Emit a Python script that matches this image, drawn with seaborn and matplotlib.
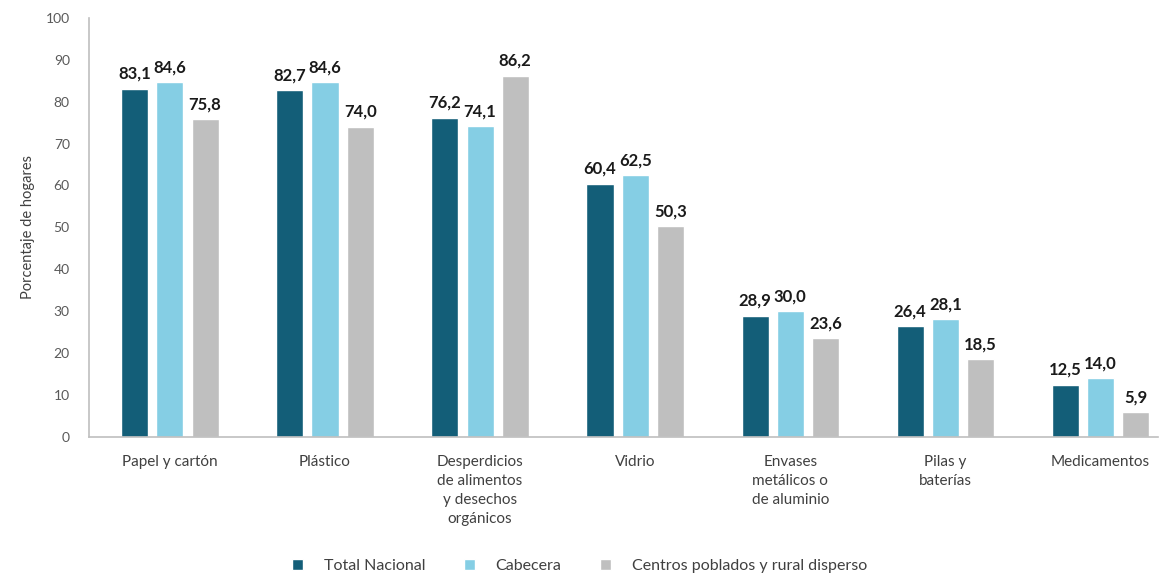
import matplotlib
matplotlib.use("Agg")
import matplotlib.pyplot as plt
import seaborn as sns
import pandas as pd

# Data
categorias = [
    "Papel y cartón",
    "Plástico",
    "Desperdicios\nde alimentos\ny desechos\norgánicos",
    "Vidrio",
    "Envases\nmetálicos o\nde aluminio",
    "Pilas y\nbaterías",
    "Medicamentos",
]
series = ["Total Nacional", "Cabecera", "Centros poblados y rural disperso"]
total_nacional = [83.1, 82.7, 76.2, 60.4, 28.9, 26.4, 12.5]
cabecera = [84.6, 84.6, 74.1, 62.5, 30.0, 28.1, 14.0]
centros_poblados = [75.8, 74.0, 86.2, 50.3, 23.6, 18.5, 5.9]
yticks = list(range(0, 101, 10))

colores = ["#135E78", "#85CEE4", "#BFBFBF"]

df = pd.DataFrame({
    "categoria": categorias * 3,
    "serie": [series[0]] * 7 + [series[1]] * 7 + [series[2]] * 7,
    "valor": total_nacional + cabecera + centros_poblados,
})

sns.set_theme(style="white")
plt.rcParams["font.family"] = ["Lato", "DejaVu Sans"]

fig = plt.figure(figsize=(11.59, 5.75), dpi=100)
ax = fig.add_axes([0.077, 0.24, 0.922, 0.729])

sns.barplot(
    data=df, x="categoria", y="valor", hue="serie",
    order=categorias, hue_order=series, palette=colores,
    width=0.68, gap=0.23, saturation=1, errorbar=None, ax=ax,
)

for cont in ax.containers:
    labels = [f"{v:.1f}".replace(".", ",") for v in cont.datavalues]
    ax.bar_label(cont, labels=labels, padding=5, fontsize=12,
                 fontweight="bold", color="#1a1a1a")

ax.set_ylim(0, 100)
ax.set_yticks(yticks)
ax.set_xlim(-0.52, 6.37)
ax.set_xlabel("")
ax.set_ylabel("Porcentaje de hogares", fontsize=10.5, color="#404040", labelpad=8)
ax.tick_params(axis="y", labelsize=10, colors="#595959", length=0, pad=14)
ax.tick_params(axis="x", labelsize=11, colors="#404040", length=0, pad=13)
for lbl in ax.get_xticklabels():
    lbl.set_linespacing(1.45)
    lbl.set_verticalalignment("top")

for side in ["top", "right"]:
    ax.spines[side].set_visible(False)
for side in ["left", "bottom"]:
    ax.spines[side].set_color("#BFBFBF")
    ax.spines[side].set_linewidth(1.2)

ax.legend_.remove()
handles, lbls = ax.get_legend_handles_labels()
fig.legend(
    handles[:3], lbls[:3], loc="lower center", bbox_to_anchor=(0.5, -0.022),
    ncol=3, frameon=False, fontsize=11.5, handlelength=0.7, handleheight=0.7,
    columnspacing=2.4, handletextpad=1.3, labelcolor="#404040",
)

fig.savefig("out.png", dpi=100)
